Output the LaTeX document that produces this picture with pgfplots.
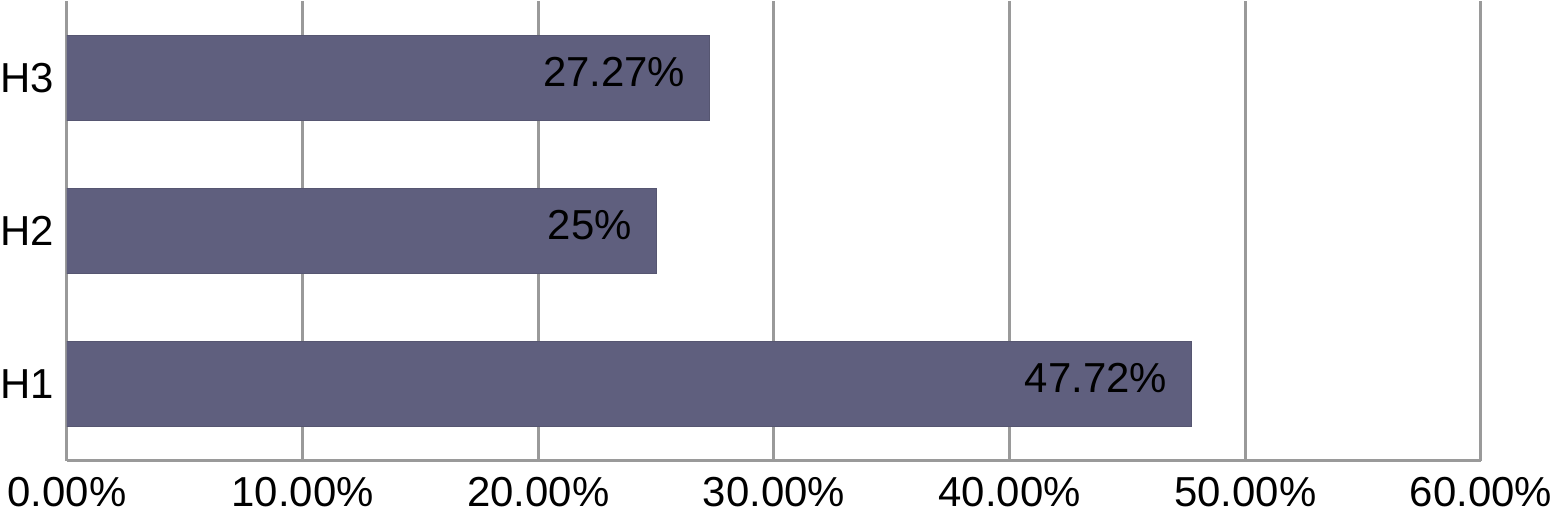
\documentclass[border=0pt]{standalone}
\usepackage{pgfplots}
\pgfplotsset{compat=1.18}
\usepackage{fontspec}
\setmainfont{Liberation Sans}
\definecolor{barfill}{HTML}{5F5F7E}
\definecolor{gridgray}{HTML}{9A9A9A}
\begin{document}
\fontsize{21bp}{25bp}\selectfont
\begin{tikzpicture}
    \begin{axis}[
            xbar,
            scale only axis,
            width=708.5bp,
            height=230bp,
            xmin=0, xmax=60,
            ymin=0.5, ymax=3.5,
            xtick={0,10,20,30,40,50,60},
            xticklabels={0.00\%,10.00\%,20.00\%,30.00\%,40.00\%,50.00\%,60.00\%},
            ytick={1,2,3},
            yticklabels={H1,H2,H3},
            major tick length=0pt,
            tick style={draw=none},
            axis lines*=left,
            axis line style={draw=gridgray, line width=1.5bp, -},
            xmajorgrids=true,
            grid style={draw=gridgray, line width=1.5bp},
            bar width=0.56,
            tick label style={font=\fontsize{21bp}{25bp}\selectfont},
            xticklabel style={inner xsep=0pt, yshift=-1bp},
            yticklabel style={inner xsep=0pt, xshift=-6.5bp},
            nodes near coords,
            point meta=explicit symbolic,
            every node near coord/.append style={anchor=east, xshift=-5bp, yshift=3bp, text=black,
                font=\fontsize{21bp}{25bp}\selectfont},
        ]
        % share of each group
        \addplot[fill=barfill, draw=barfill!90!black, line width=0.5bp] coordinates {
                (47.72,1) [47.72\%]
                (25,2) [25\%]
                (27.27,3) [27.27\%]
            };
    \end{axis}
\end{tikzpicture}
\end{document}
